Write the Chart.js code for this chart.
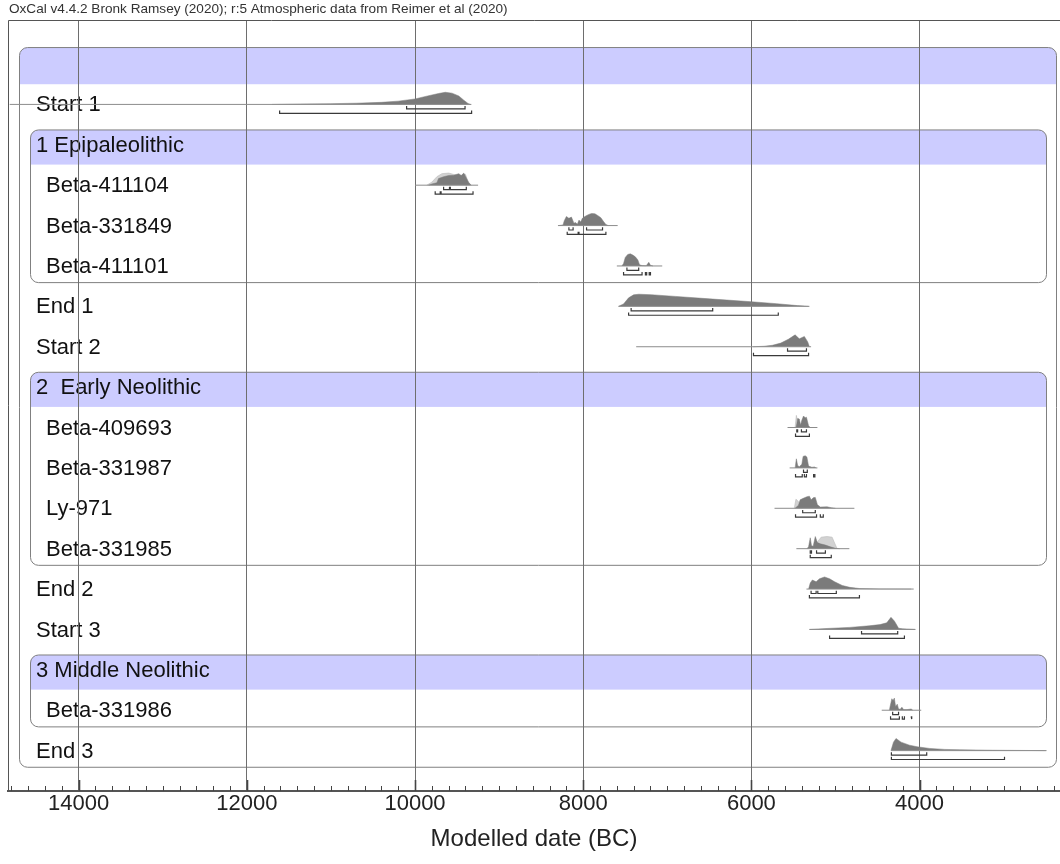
<!DOCTYPE html>
<html>
<head>
<meta charset="utf-8">
<script src="https://cdn.jsdelivr.net/npm/chart.js@4.4.1/dist/chart.umd.min.js"></script>
<style>
  html, body { margin: 0; padding: 0; background: #fff; }
</style>
</head>
<body>
<canvas id="chart" width="1060" height="864"></canvas>
<script>
// OxCal-style multiplot of modelled dates, drawn with Chart.js

const FONT = "'Liberation Sans', Arial, sans-serif";
const HEADER = "OxCal v4.4.2 Bronk Ramsey (2020); r:5 Atmospheric data from Reimer et al (2020)";

// ─────────────────────────────────────────────
// ROWS (top to bottom)
// ─────────────────────────────────────────────
const rowLabels = ["", "Start 1", "1 Epipaleolithic", "Beta-411104", "Beta-331849", "Beta-411101",
  "End 1", "Start 2", "2  Early Neolithic", "Beta-409693", "Beta-331987", "Ly-971", "Beta-331985",
  "End 2", "Start 3", "3 Middle Neolithic", "Beta-331986", "End 3"];
const rowKinds = ["sequence", "boundary", "phase", "date", "date", "date", "boundary", "boundary",
  "phase", "date", "date", "date", "date", "boundary", "boundary", "phase", "date", "boundary"];
const sequenceSpan = [0, 17];
const phaseSpans = [[2, 5], [8, 12], [15, 16]];

// x axis (years BC, reversed)
const xMin = 2330, xMax = 14840;
const majorStep = 2000, minorStep = 200;

// ─────────────────────────────────────────────
// DISTRIBUTIONS  [year BC, relative height]
// ranges: [from, to] years BC (68.3% and 95.4%)
// ─────────────────────────────────────────────
const start1Dens = [[11700,0],[11400,0.03],[11000,0.06],[10700,0.1],[10400,0.17],[10200,0.27],[10000,0.45],[9850,0.7],[9720,0.9],[9640,1.0],[9560,0.93],[9480,0.7],[9420,0.35],[9370,0.08],[9340,0]];
const start1Line = [14820, 9330];
const start1R68 = [[10100, 9405]];
const start1R95 = [[11610, 9327]];

const b411104Prior = [[9860,0],[9800,0.25],[9740,0.7],[9680,0.95],[9600,1.0],[9520,0.85],[9460,0.8],[9400,0.9],[9370,0.3],[9340,0]];
const b411104Dens = [[9840,0],[9800,0.1],[9740,0.2],[9720,0.55],[9660,0.7],[9600,0.8],[9540,0.82],[9480,0.95],[9450,0.8],[9420,1.0],[9390,0.6],[9360,0.2],[9330,0]];
const b411104Line = [10000, 9250];
const b411104R68 = [[9660, 9590], [9580, 9390]];
const b411104R95 = [[9760, 9700], [9690, 9310]];

const b331849Dens = [[8290,0],[8240,0.05],[8225,0.4],[8200,0.75],[8170,0.6],[8140,0.7],[8110,0.2],[8090,0.25],[8070,0.1],[8050,0.45],[8030,0.3],[8010,0.6],[7980,0.75],[7940,0.9],[7900,1.0],[7860,0.97],[7820,0.8],[7790,0.65],[7760,0.35],[7730,0.08],[7700,0]];
const b331849Line = [8300, 7590];
const b331849R68 = [[8170, 8120], [7960, 7770]];
const b331849R95 = [[8190, 8060], [8050, 7730]];

const b411101Dens = [[7540,0],[7520,0.2],[7500,0.7],[7470,0.95],[7440,1.0],[7410,0.9],[7380,0.75],[7350,0.5],[7330,0.1],[7300,0.03],[7250,0.02],[7220,0.3],[7200,0.05],[7170,0]];
const b411101Line = [7600, 7060];
const b411101R68 = [[7480, 7340]];
const b411101R95 = [[7520, 7300], [7260, 7245], [7215, 7200]];

const end1Dens = [[7580,0],[7520,0.2],[7460,0.7],[7400,0.95],[7340,1.0],[7190,0.96],[6900,0.82],[6500,0.62],[6000,0.38],[5700,0.22],[5450,0.06],[5320,0]];
const end1Line = [7580, 5310];
const end1R68 = [[7430, 6460]];
const end1R95 = [[7460, 5680]];

const start2Dens = [[5980,0],[5850,0.04],[5750,0.12],[5650,0.3],[5560,0.62],[5480,0.98],[5430,0.65],[5370,0.85],[5330,0.4],[5310,0]];
const start2Line = [7370, 5290];
const start2R68 = [[5570, 5345]];
const start2R95 = [[5975, 5320]];

const b409693Prior = [[5480,0],[5465,1.0],[5445,0.3],[5430,0]];
const b409693Dens = [[5470,0],[5460,0.3],[5450,0.75],[5430,0.7],[5415,0.2],[5400,0.6],[5380,0.95],[5360,0.8],[5345,0.85],[5320,0.15],[5300,0]];
const b409693Line = [5570, 5215];
const b409693R68 = [[5460, 5450], [5405, 5345]];
const b409693R95 = [[5475, 5310]];

const b331987Dens = [[5480,0],[5465,0.75],[5450,0.2],[5430,0.1],[5400,0.3],[5385,0.95],[5360,1.0],[5340,0.9],[5320,0.15],[5280,0.05],[5250,0.08],[5230,0]];
const b331987Line = [5545, 5215];
const b331987R68 = [[5380, 5335]];
const b331987R95 = [[5475, 5395], [5370, 5345], [5260, 5245]];

const ly971Prior = [[5490,0],[5470,0.75],[5440,0.55],[5420,0.4],[5400,0]];
const ly971Dens = [[5480,0],[5440,0.25],[5420,0.7],[5390,0.8],[5340,0.95],[5310,1.0],[5290,0.7],[5260,0.88],[5240,0.9],[5215,0.3],[5180,0.1],[5100,0.12],[5050,0.05],[5000,0]];
const ly971Line = [5725, 4775];
const ly971R68 = [[5390, 5240]];
const ly971R95 = [[5475, 5225], [5180, 5145]];

const b331985Prior = [[5240,0],[5210,0.6],[5170,0.95],[5100,1.0],[5040,0.95],[5000,0.3],[4980,0]];
const b331985Dens = [[5340,0],[5320,0.15],[5300,0.9],[5285,0.25],[5265,0.2],[5240,1.0],[5215,0.5],[5180,0.4],[5120,0.3],[5060,0.15],[5000,0.03],[4950,0]];
const b331985Line = [5465, 4835];
const b331985R68 = [[5300, 5285], [5225, 5120]];
const b331985R95 = [[5300, 5050]];

const end2Dens = [[5320,0],[5300,0.5],[5275,0.75],[5230,0.6],[5190,0.85],[5130,1.0],[5070,0.85],[5010,0.6],[4920,0.3],[4830,0.14],[4710,0.04],[4480,0.01],[4100,0]];
const end2Line = [5345, 4070];
const end2R68 = [[5290, 5230], [5210, 4990]];
const end2R95 = [[5310, 4715]];

const start3Dens = [[5310,0],[5100,0.08],[4830,0.17],[4600,0.3],[4470,0.4],[4390,0.55],[4340,1.0],[4300,0.7],[4270,0.35],[4250,0.1],[4200,0.05],[4100,0.02],[4050,0]];
const start3Line = [5310, 4050];
const start3R68 = [[4690, 4260]];
const start3R95 = [[5070, 4180]];

const b331986Dens = [[4360,0],[4330,0.95],[4315,0.8],[4300,1.0],[4285,0.3],[4265,0.5],[4250,0.1],[4230,0.08],[4210,0.25],[4190,0.05],[4150,0.05],[4100,0.1],[4080,0]];
const b331986Line = [4450, 3980];
const b331986R68 = [[4320, 4250]];
const b331986R95 = [[4345, 4240], [4205, 4180], [4100, 4090]];

const end3Dens = [[4340,0],[4310,0.7],[4280,1.0],[4220,0.7],[4120,0.45],[4030,0.32],[3880,0.18],[3700,0.1],[3520,0.07],[3130,0.03],[2700,0.01],[2500,0]];
const end3Line = [4340, 2490];
const end3R68 = [[4335, 3915]];
const end3R95 = [[4335, 2990]];

const dists = [
  { row: 1,  dens: start1Dens,  line: start1Line,  r68: start1R68,  r95: start1R95 },
  { row: 3,  dens: b411104Dens, prior: b411104Prior, line: b411104Line, r68: b411104R68, r95: b411104R95 },
  { row: 4,  dens: b331849Dens, line: b331849Line, r68: b331849R68, r95: b331849R95 },
  { row: 5,  dens: b411101Dens, line: b411101Line, r68: b411101R68, r95: b411101R95 },
  { row: 6,  dens: end1Dens,    line: end1Line,    r68: end1R68,    r95: end1R95 },
  { row: 7,  dens: start2Dens,  line: start2Line,  r68: start2R68,  r95: start2R95 },
  { row: 9,  dens: b409693Dens, prior: b409693Prior, line: b409693Line, r68: b409693R68, r95: b409693R95 },
  { row: 10, dens: b331987Dens, line: b331987Line, r68: b331987R68, r95: b331987R95 },
  { row: 11, dens: ly971Dens,   prior: ly971Prior, line: ly971Line, r68: ly971R68, r95: ly971R95 },
  { row: 12, dens: b331985Dens, prior: b331985Prior, line: b331985Line, r68: b331985R68, r95: b331985R95 },
  { row: 13, dens: end2Dens,    line: end2Line,    r68: end2R68,    r95: end2R95 },
  { row: 14, dens: start3Dens,  line: start3Line,  r68: start3R68,  r95: start3R95 },
  { row: 16, dens: b331986Dens, line: b331986Line, r68: b331986R68, r95: b331986R95 },
  { row: 17, dens: end3Dens,    line: end3Line,    r68: end3R68,    r95: end3R95 },
];

// ─────────────────────────────────────────────
// DATASETS
// ─────────────────────────────────────────────
const PEAK = 0.3, R68_OFF = 0.11, R95_OFF = 0.22, CAP = 0.07;

function densPts(pairs, row) {
  return pairs.map(([x, h]) => ({ x, y: row - h * PEAK }));
}
function bracketPts(ranges, y) {
  const pts = [];
  ranges.forEach(([a, b]) => {
    pts.push({ x: a, y: y - CAP }, { x: a, y }, { x: b, y }, { x: b, y: y - CAP }, { x: b, y: null });
  });
  return pts;
}

const datasets = [];
dists.forEach(d => {
  if (d.prior) {
    datasets.push({
      data: densPts(d.prior, d.row), fill: { value: d.row },
      backgroundColor: "#d2d2d2", borderColor: "#b8b8b8", borderWidth: 0.6,
      pointRadius: 0, order: 4,
    });
  }
  datasets.push({
    data: densPts(d.dens, d.row), fill: { value: d.row },
    backgroundColor: "#7b7b7b", borderColor: "#7b7b7b", borderWidth: 0.5,
    pointRadius: 0, order: 3,
  });
  datasets.push({
    data: [{ x: d.line[0], y: d.row }, { x: d.line[1], y: d.row }],
    borderColor: "#8c8c8c", borderWidth: 1, fill: false, pointRadius: 0, order: 2,
  });
  datasets.push({
    data: [...bracketPts(d.r68, d.row + R68_OFF), ...bracketPts(d.r95, d.row + R95_OFF)],
    borderColor: "#3a3a3a", borderWidth: 1.2, fill: false, pointRadius: 0, spanGaps: false, order: 1,
  });
});

// ─────────────────────────────────────────────
// BOXES, LABELS, FRAME
// ─────────────────────────────────────────────
function drawBox(ctx, x1, x2, y1, y2, band) {
  ctx.save();
  ctx.beginPath();
  ctx.roundRect(x1 + 0.5, y1 + 0.5, x2 - x1, y2 - y1, 8);
  ctx.fillStyle = "#fff";
  ctx.fill();
  ctx.save();
  ctx.clip();
  ctx.fillStyle = "#ccccff";
  ctx.fillRect(x1, y1, x2 - x1 + 1, band);
  ctx.restore();
  ctx.strokeStyle = "#808080";
  ctx.lineWidth = 1;
  ctx.stroke();
  ctx.restore();
}

const oxcalPlugin = {
  id: "oxcal",
  beforeDraw(chart) {
    const { ctx, chartArea: a, scales: { y } } = chart;
    const rowPx = Math.abs(y.getPixelForValue(1) - y.getPixelForValue(0));

    drawBox(ctx, a.left + 11, a.right - 4,
      y.getPixelForValue(sequenceSpan[0]) - 0.42 * rowPx,
      y.getPixelForValue(sequenceSpan[1]) + 0.4 * rowPx, 0.92 * rowPx);
    phaseSpans.forEach(([s, e]) => drawBox(ctx, a.left + 22, a.right - 14,
      y.getPixelForValue(s) - 0.38 * rowPx,
      y.getPixelForValue(e) + 0.4 * rowPx, 0.87 * rowPx));

    ctx.save();
    ctx.font = `22px ${FONT}`;
    ctx.fillStyle = "#111";
    ctx.textBaseline = "middle";
    rowLabels.forEach((t, i) => {
      ctx.fillText(t, a.left + (rowKinds[i] === "date" ? 38 : 28), y.getPixelForValue(i) + 1);
    });
    ctx.restore();
  },
  afterDraw(chart) {
    const { ctx, chartArea: a, scales: { x } } = chart;
    ctx.save();
    ctx.strokeStyle = "#555";
    ctx.lineWidth = 1;
    ctx.beginPath();
    ctx.moveTo(a.left + 0.5, a.bottom);
    ctx.lineTo(a.left + 0.5, a.top + 0.5);
    ctx.lineTo(a.right, a.top + 0.5);
    ctx.stroke();

    // tick marks inside the frame
    ctx.strokeStyle = "#444";
    x.ticks.forEach(t => {
      if (t.value % minorStep) return;
      const px = Math.round(x.getPixelForValue(t.value)) + 0.5;
      const major = t.value % majorStep === 0;
      ctx.lineWidth = major ? 1.6 : 1;
      ctx.beginPath();
      ctx.moveTo(px, a.bottom);
      ctx.lineTo(px, a.bottom - (major ? 11 : 5));
      ctx.stroke();
    });

    ctx.font = `13.6px ${FONT}`;
    ctx.fillStyle = "#333";
    ctx.textBaseline = "middle";
    ctx.fillText(HEADER, 9, 9);
    ctx.restore();
  }
};

new Chart(document.getElementById("chart"), {
  type: "line",
  data: { datasets },
  options: {
    responsive: false,
    animation: false,
    devicePixelRatio: 1,
    layout: { padding: { left: 8, top: 20, right: 0, bottom: 0 } },
    plugins: { legend: { display: false }, tooltip: { enabled: false } },
    elements: { line: { tension: 0 } },
    scales: {
      x: {
        type: "linear",
        reverse: true,
        min: xMin,
        max: xMax,
        afterFit: s => { s.height = 73; },
        grid: {
          color: c => (c.tick && c.tick.value % majorStep === 0) ? "#6e6e6e" : "rgba(0,0,0,0)",
          lineWidth: 1,
          drawTicks: false,
        },
        border: { display: true, color: "#555", width: 2 },
        ticks: {
          stepSize: minorStep,
          autoSkip: false,
          maxRotation: 0,
          includeBounds: false,
          padding: 0,
          color: "#222",
          font: { family: FONT, size: 22 },
          callback: v => v % majorStep === 0 ? String(v) : "",
        },
        title: {
          display: true,
          text: "Modelled date (BC)",
          color: "#222",
          font: { family: FONT, size: 24 },
          padding: { top: 0, bottom: 10 },
        },
      },
      y: {
        type: "linear",
        reverse: true,
        min: -1.09,
        max: 18.0,
        display: false,
      },
    },
  },
  plugins: [oxcalPlugin],
});
</script>
</body>
</html>
